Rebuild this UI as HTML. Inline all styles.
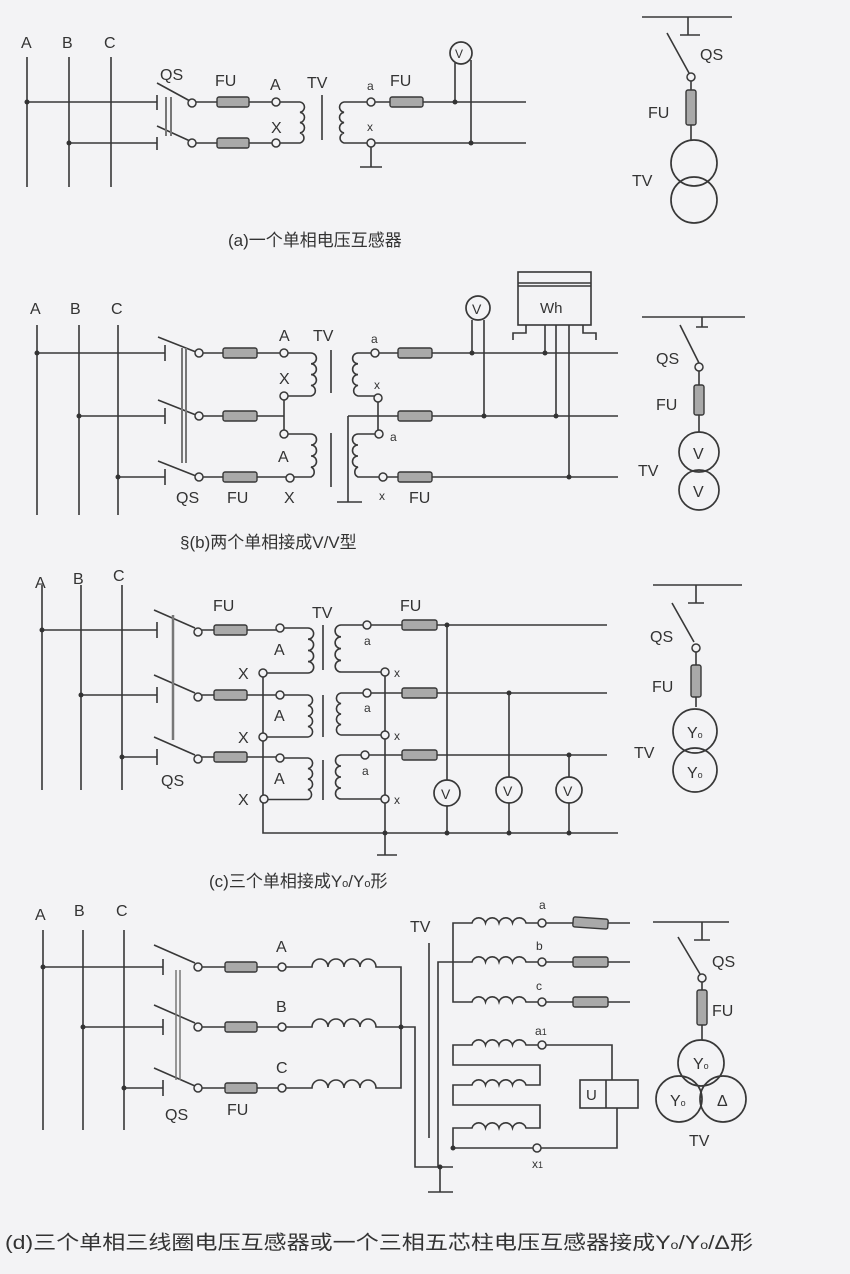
<!DOCTYPE html>
<html><head><meta charset="utf-8"><style>
html,body{margin:0;padding:0;background:#f3f3f5;}
svg{display:block}
text{font-family:"Liberation Sans","Noto Sans CJK SC",sans-serif;fill:#333;}
.c{font-family:"Liberation Serif","Noto Serif CJK SC","Noto Sans CJK SC",serif;}
</style></head><body>
<svg width="850" height="1274" viewBox="0 0 850 1274" xmlns="http://www.w3.org/2000/svg">
<rect width="850" height="1274" fill="#f3f3f5"/>
<g stroke="#383838" stroke-width="1.6" fill="none">
<!-- ===== (a) ===== -->
<path d="M27 57V187M69 57V187M111 57V187"/>
<path d="M27 102H157M157 95V110M69 143H157M157 137V150"/>
<path d="M157 83L190 101M157 126L190 141"/>
<path d="M166 97V136M171 97V136" stroke="#777" stroke-width="2"/>
<path d="M196 102H217M249 102H272M196 143H217M249 143H272"/>
<path d="M280 102H300a5.2 5.2 0 0 1 0 10.3a5.2 5.2 0 0 1 0 10.3a5.2 5.2 0 0 1 0 10.3a5.2 5.2 0 0 1 0 10.1H280"/>
<path d="M322 95V140"/>
<path d="M367 102H344a5.2 5.2 0 0 0 0 10.3a5.2 5.2 0 0 0 0 10.3a5.2 5.2 0 0 0 0 10.3a5.2 5.2 0 0 0 0 10.1H367"/>
<path d="M371 147V167M360 167H382"/>
<path d="M375 102H390M423 102H526M375 143H526"/>
<path d="M455 63V102M471 60V143"/>
<path d="M642 17H732M688 17V35M680 35H700M667 33L689 73M691 81V90M691 125V140"/>
<!-- ===== (b) ===== -->
<path d="M37 325V515M79 325V515M118 325V515"/>
<path d="M37 353H165M165 345V361M79 416H165M165 408V424M118 477H165M165 469V485"/>
<path d="M158 337L196 352M158 400L196 415M158 461L196 476"/>
<path d="M182 348V463M186 348V463" stroke="#777" stroke-width="2"/>
<path d="M203 353H223M257 353H280M203 416H223M257 416H284M203 477H223M257 477H286"/>
<path d="M288 353H311a5.4 5.4 0 0 1 0 10.8a5.4 5.4 0 0 1 0 10.8a5.4 5.4 0 0 1 0 10.8a5.4 5.4 0 0 1 0 10.6H288"/>
<path d="M284 400V430"/>
<path d="M288 434H311a5.5 5.5 0 0 1 0 11a5.5 5.5 0 0 1 0 11a5.5 5.5 0 0 1 0 11a5.5 5.5 0 0 1 0 10H294"/>
<path d="M331 350V393M331 433V487"/>
<path d="M371 353H358a5.4 5.4 0 0 0 0 10.8a5.4 5.4 0 0 0 0 10.8a5.4 5.4 0 0 0 0 10.8a5.4 5.4 0 0 0 0 10.6H375"/>
<path d="M378 402V430M348 416H398M348 416V502M337 502H362"/>
<path d="M375 434H358a5.5 5.5 0 0 0 0 11a5.5 5.5 0 0 0 0 11a5.5 5.5 0 0 0 0 11a5.5 5.5 0 0 0 0 10H379"/>
<path d="M379 353H398M432 353H618M432 416H618M387 477H398M432 477H618"/>
<path d="M472 320V353M484 320V416"/>
<rect x="518" y="272" width="73" height="53"/>
<path d="M518 283H591M518 286H591"/>
<path d="M526 325V333H513V340M583 325V333H596V340M545 325V353M556 325V416M569 325V477"/>
<path d="M642 317H745M702 317V327M696 327H708M680 325L699 363M699 371V385M699 415V432"/>
<!-- ===== (c) ===== -->
<path d="M42 585V790M81 585V790M122 585V790"/>
<path d="M42 630H157M157 622V638M81 695H157M157 687V703M122 757H157M157 749V765"/>
<path d="M154 610L195 628M154 675L195 693M154 737L195 755"/>
<path d="M173 615V740" stroke="#777" stroke-width="2.5"/>
<path d="M202 630H214M247 630H276M202 695H214M247 695H276M202 757H214M247 757H276"/>
<path d="M284 628H308a5.6 5.6 0 0 1 0 11.2a5.6 5.6 0 0 1 0 11.2a5.6 5.6 0 0 1 0 11.2a5.6 5.6 0 0 1 0 11.4H267"/>
<path d="M284 695H308a5.3 5.3 0 0 1 0 10.5a5.3 5.3 0 0 1 0 10.5a5.3 5.3 0 0 1 0 10.5a5.3 5.3 0 0 1 0 10.5H267"/>
<path d="M284 758H308a5.3 5.3 0 0 1 0 10.5a5.3 5.3 0 0 1 0 10.5a5.3 5.3 0 0 1 0 10.5a5.3 5.3 0 0 1 0 10H268"/>
<path d="M263 677V833H618"/>
<path d="M323 625V670M323 695V737M323 760V800"/>
<path d="M363 625H341a5.6 5.6 0 0 0 0 11.8a5.6 5.6 0 0 0 0 11.8a5.6 5.6 0 0 0 0 11.8a5.6 5.6 0 0 0 0 11.6H381"/>
<path d="M363 693H341a5.3 5.3 0 0 0 0 10.5a5.3 5.3 0 0 0 0 10.5a5.3 5.3 0 0 0 0 10.5a5.3 5.3 0 0 0 0 10.5H381"/>
<path d="M361 755H341a5.5 5.5 0 0 0 0 11a5.5 5.5 0 0 0 0 11a5.5 5.5 0 0 0 0 11a5.5 5.5 0 0 0 0 11H381"/>
<path d="M385 676V855M377 855H397"/>
<path d="M371 625H402M437 625H607M371 693H402M437 693H607M369 755H402M437 755H607"/>
<path d="M447 625V780M447 806V833M509 693V777M509 803V833M569 755V777M569 803V833"/>
<path d="M653 585H742M696 585V603M688 603H704M672 603L694 642M696 652V665M696 697V707"/>
<!-- ===== (d) ===== -->
<path d="M43 930V1130M83 930V1130M124 930V1130"/>
<path d="M43 967H163M163 959V975M83 1027H163M163 1019V1035M124 1088H163M163 1080V1096"/>
<path d="M154 945L195 963M154 1005L195 1023M154 1068L195 1086"/>
<path d="M176 970V1080M180 970V1080" stroke="#777" stroke-width="1.5"/>
<path d="M202 967H225M257 967H278M202 1027H225M257 1027H278M202 1088H225M257 1088H278"/>
<path d="M286 967H312a8 8 0 0 1 16 0a8 8 0 0 1 16 0a8 8 0 0 1 16 0a8 8 0 0 1 16 0H401V1088H376a8 8 0 0 0-16 0a8 8 0 0 0-16 0a8 8 0 0 0-16 0a8 8 0 0 0-16 0H286"/>
<path d="M286 1027H312a8 8 0 0 1 16 0a8 8 0 0 1 16 0a8 8 0 0 1 16 0a8 8 0 0 1 16 0H415V1167H453"/>
<path d="M429 943V1138M440 1167V1192M428 1192H453"/>
<path d="M538 923H526a7 7 0 0 0-13.5 0a7 7 0 0 0-13.5 0a7 7 0 0 0-13.5 0a7 7 0 0 0-13.5 0H453V1002H472a7 7 0 0 1 13.5 0a7 7 0 0 1 13.5 0a7 7 0 0 1 13.5 0a7 7 0 0 1 13.5 0H538"/>
<path d="M538 962H526a7 7 0 0 0-13.5 0a7 7 0 0 0-13.5 0a7 7 0 0 0-13.5 0a7 7 0 0 0-13.5 0H438V1167"/>
<path d="M546 923H573M608 923H630M546 962H573M608 962H630M546 1002H573M608 1002H630"/>
<path d="M538 1045H526a7 7 0 0 0-13.5 0a7 7 0 0 0-13.5 0a7 7 0 0 0-13.5 0a7 7 0 0 0-13.5 0H453V1065H540V1085H526a7 7 0 0 0-13.5 0a7 7 0 0 0-13.5 0a7 7 0 0 0-13.5 0a7 7 0 0 0-13.5 0H453V1105H540V1128H526a7 7 0 0 0-13.5 0a7 7 0 0 0-13.5 0a7 7 0 0 0-13.5 0a7 7 0 0 0-13.5 0H453V1148H533"/>
<path d="M546 1045H612V1080M541 1148H617V1108"/>
<rect x="580" y="1080" width="58" height="28"/>
<path d="M606 1080V1108"/>
<path d="M653 922H729M702 922V940M694 940H710M678 937L700 974M702 982V990M702 1025V1040"/>
</g>
<!-- fuses -->
<g fill="#a9a9a9" stroke="#383838" stroke-width="1.4">
<rect x="217" y="97" width="32" height="10" rx="2"/><rect x="217" y="138" width="32" height="10" rx="2"/>
<rect x="390" y="97" width="33" height="10" rx="2"/>
<rect x="686" y="90" width="10" height="35" rx="2"/>
<rect x="223" y="348" width="34" height="10" rx="2"/><rect x="223" y="411" width="34" height="10" rx="2"/><rect x="223" y="472" width="34" height="10" rx="2"/>
<rect x="398" y="348" width="34" height="10" rx="2"/><rect x="398" y="411" width="34" height="10" rx="2"/><rect x="398" y="472" width="34" height="10" rx="2"/>
<rect x="694" y="385" width="10" height="30" rx="2"/>
<rect x="214" y="625" width="33" height="10" rx="2"/><rect x="214" y="690" width="33" height="10" rx="2"/><rect x="214" y="752" width="33" height="10" rx="2"/>
<rect x="402" y="620" width="35" height="10" rx="2"/><rect x="402" y="688" width="35" height="10" rx="2"/><rect x="402" y="750" width="35" height="10" rx="2"/>
<rect x="691" y="665" width="10" height="32" rx="2"/>
<rect x="225" y="962" width="32" height="10" rx="2"/><rect x="225" y="1022" width="32" height="10" rx="2"/><rect x="225" y="1083" width="32" height="10" rx="2"/>
<rect x="573" y="918" width="35" height="10" rx="2" transform="rotate(4 590 923)"/><rect x="573" y="957" width="35" height="10" rx="2"/><rect x="573" y="997" width="35" height="10" rx="2"/>
<rect x="697" y="990" width="10" height="35" rx="2"/>
</g>
<!-- terminal circles -->
<g fill="#f3f3f5" stroke="#383838" stroke-width="1.5">
<circle cx="192" cy="103" r="4"/><circle cx="192" cy="143" r="4"/>
<circle cx="276" cy="102" r="4"/><circle cx="276" cy="143" r="4"/>
<circle cx="371" cy="102" r="4"/><circle cx="371" cy="143" r="4"/>
<circle cx="691" cy="77" r="4"/>
<circle cx="199" cy="353" r="4"/><circle cx="199" cy="416" r="4"/><circle cx="199" cy="477" r="4"/>
<circle cx="284" cy="353" r="4"/><circle cx="284" cy="396" r="4"/><circle cx="284" cy="434" r="4"/><circle cx="290" cy="478" r="4"/>
<circle cx="375" cy="353" r="4"/><circle cx="378" cy="398" r="4"/><circle cx="379" cy="434" r="4"/><circle cx="383" cy="477" r="4"/>
<circle cx="699" cy="367" r="4"/>
<circle cx="198" cy="632" r="4"/><circle cx="198" cy="697" r="4"/><circle cx="198" cy="759" r="4"/>
<circle cx="280" cy="628" r="4"/><circle cx="280" cy="695" r="4"/><circle cx="280" cy="758" r="4"/>
<circle cx="263" cy="673" r="4"/><circle cx="263" cy="737" r="4"/><circle cx="264" cy="799" r="4"/>
<circle cx="367" cy="625" r="4"/><circle cx="367" cy="693" r="4"/><circle cx="365" cy="755" r="4"/>
<circle cx="385" cy="672" r="4"/><circle cx="385" cy="735" r="4"/><circle cx="385" cy="799" r="4"/>
<circle cx="696" cy="648" r="4"/>
<circle cx="198" cy="967" r="4"/><circle cx="198" cy="1027" r="4"/><circle cx="198" cy="1088" r="4"/>
<circle cx="282" cy="967" r="4"/><circle cx="282" cy="1027" r="4"/><circle cx="282" cy="1088" r="4"/>
<circle cx="542" cy="923" r="4"/><circle cx="542" cy="962" r="4"/><circle cx="542" cy="1002" r="4"/>
<circle cx="542" cy="1045" r="4"/><circle cx="537" cy="1148" r="4"/>
<circle cx="702" cy="978" r="4"/>
</g>
<!-- meter & symbol circles -->
<g fill="none" stroke="#383838" stroke-width="1.7">
<circle cx="461" cy="53" r="11"/>
<circle cx="694" cy="163" r="23"/><circle cx="694" cy="200" r="23"/>
<circle cx="478" cy="308" r="12"/>
<circle cx="699" cy="452" r="20"/><circle cx="699" cy="490" r="20"/>
<circle cx="447" cy="793" r="13"/><circle cx="509" cy="790" r="13"/><circle cx="569" cy="790" r="13"/>
<circle cx="695" cy="731" r="22"/><circle cx="695" cy="770" r="22"/>
<circle cx="701" cy="1063" r="23"/><circle cx="679" cy="1099" r="23"/><circle cx="723" cy="1099" r="23"/>
</g>
<!-- junction dots -->
<g fill="#333">
<circle cx="27" cy="102" r="2.5"/><circle cx="69" cy="143" r="2.5"/><circle cx="455" cy="102" r="2.5"/><circle cx="471" cy="143" r="2.5"/>
<circle cx="37" cy="353" r="2.5"/><circle cx="79" cy="416" r="2.5"/><circle cx="118" cy="477" r="2.5"/>
<circle cx="472" cy="353" r="2.5"/><circle cx="484" cy="416" r="2.5"/><circle cx="545" cy="353" r="2.5"/><circle cx="556" cy="416" r="2.5"/><circle cx="569" cy="477" r="2.5"/>
<circle cx="42" cy="630" r="2.5"/><circle cx="81" cy="695" r="2.5"/><circle cx="122" cy="757" r="2.5"/>
<circle cx="447" cy="625" r="2.5"/><circle cx="509" cy="693" r="2.5"/><circle cx="569" cy="755" r="2.5"/>
<circle cx="385" cy="833" r="2.5"/><circle cx="447" cy="833" r="2.5"/><circle cx="509" cy="833" r="2.5"/><circle cx="569" cy="833" r="2.5"/>
<circle cx="43" cy="967" r="2.5"/><circle cx="83" cy="1027" r="2.5"/><circle cx="124" cy="1088" r="2.5"/>
<circle cx="401" cy="1027" r="2.5"/><circle cx="440" cy="1167" r="2.5"/><circle cx="453" cy="1148" r="2.5"/>
</g>
<!-- labels -->
<g font-size="16">
<text x="21" y="48">A</text><text x="62" y="48">B</text><text x="104" y="48">C</text>
<text x="160" y="80">QS</text><text x="215" y="86">FU</text><text x="270" y="90">A</text><text x="307" y="88">TV</text>
<text x="271" y="133">X</text><text x="367" y="90" font-size="12">a</text><text x="367" y="131" font-size="12">x</text><text x="390" y="86">FU</text>
<text x="455" y="58" font-size="12">V</text>
<text x="700" y="60">QS</text><text x="648" y="118">FU</text><text x="632" y="186">TV</text>
<text x="30" y="314">A</text><text x="70" y="314">B</text><text x="111" y="314">C</text>
<text x="279" y="341">A</text><text x="313" y="341">TV</text><text x="279" y="384">X</text><text x="278" y="462">A</text><text x="284" y="503">X</text>
<text x="371" y="343" font-size="12">a</text><text x="374" y="389" font-size="12">x</text><text x="390" y="441" font-size="12">a</text><text x="379" y="500" font-size="12">x</text>
<text x="176" y="503">QS</text><text x="227" y="503">FU</text><text x="409" y="503">FU</text>
<text x="472" y="314" font-size="14">V</text><text x="540" y="313" font-size="15">Wh</text>
<text x="656" y="364">QS</text><text x="656" y="410">FU</text><text x="638" y="476">TV</text>
<text x="693" y="459">V</text><text x="693" y="497">V</text>
<text x="35" y="588">A</text><text x="73" y="584">B</text><text x="113" y="581">C</text>
<text x="213" y="611">FU</text><text x="312" y="618">TV</text><text x="400" y="611">FU</text>
<text x="274" y="655">A</text><text x="274" y="721">A</text><text x="274" y="784">A</text>
<text x="238" y="679">X</text><text x="238" y="743">X</text><text x="238" y="805">X</text>
<text x="364" y="645" font-size="12">a</text><text x="364" y="712" font-size="12">a</text><text x="362" y="775" font-size="12">a</text>
<text x="394" y="677" font-size="12">x</text><text x="394" y="740" font-size="12">x</text><text x="394" y="804" font-size="12">x</text>
<text x="161" y="786">QS</text>
<text x="441" y="799" font-size="14">V</text><text x="503" y="796" font-size="14">V</text><text x="563" y="796" font-size="14">V</text>
<text x="650" y="642">QS</text><text x="652" y="692">FU</text><text x="634" y="758">TV</text>
<text x="687" y="738">Y<tspan font-size="9">o</tspan></text><text x="687" y="778">Y<tspan font-size="9">o</tspan></text>
<text x="35" y="920">A</text><text x="74" y="916">B</text><text x="116" y="916">C</text>
<text x="276" y="952">A</text><text x="276" y="1012">B</text><text x="276" y="1073">C</text>
<text x="165" y="1120">QS</text><text x="227" y="1115">FU</text><text x="410" y="932">TV</text>
<text x="539" y="909" font-size="12">a</text><text x="536" y="950" font-size="12">b</text><text x="536" y="990" font-size="12">c</text>
<text x="535" y="1035" font-size="12">a<tspan font-size="9">1</tspan></text><text x="532" y="1168" font-size="12">x<tspan font-size="9">1</tspan></text>
<text x="586" y="1100" font-size="15">U</text>
<text x="712" y="967">QS</text><text x="712" y="1016">FU</text><text x="689" y="1146">TV</text>
<text x="693" y="1069">Y<tspan font-size="9">o</tspan></text><text x="670" y="1106">Y<tspan font-size="9">o</tspan></text><text x="717" y="1106">Δ</text>
</g>
<g font-size="17" class="c">
<text x="228" y="246">(a)一个单相电压互感器</text>
<text x="180" y="548">§(b)两个单相接成V/V型</text>
<text x="209" y="887">(c)三个单相接成Y<tspan font-size="11">o</tspan>/Y<tspan font-size="11">o</tspan>形</text>
<text x="5" y="1249" font-size="19.5" textLength="748" lengthAdjust="spacingAndGlyphs">(d)三个单相三线圈电压互感器或一个三相五芯柱电压互感器接成Y<tspan font-size="12">o</tspan>/Y<tspan font-size="12">o</tspan>/Δ形</text>
</g>
</svg>
</body></html>
